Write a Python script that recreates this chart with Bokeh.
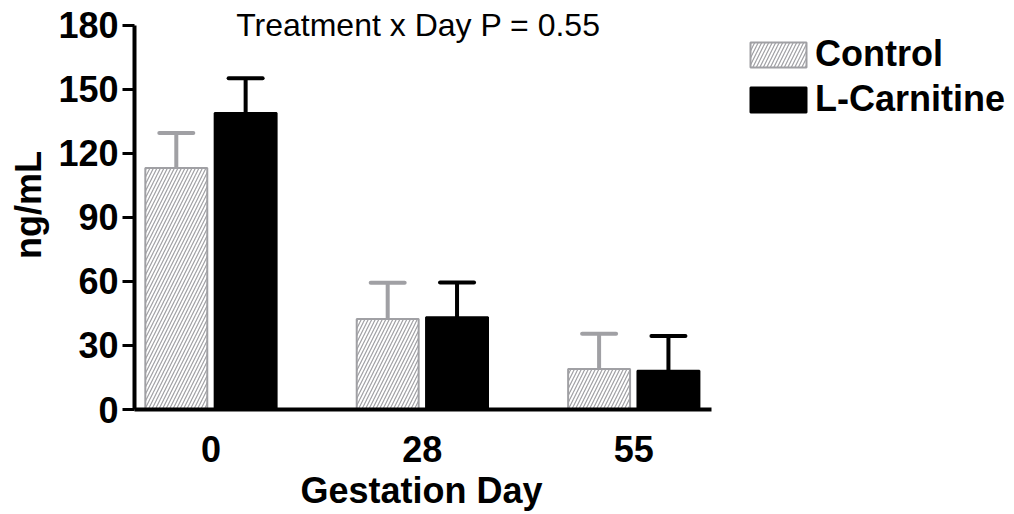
from bokeh.plotting import figure
from bokeh.models import (ColumnDataSource, Range1d, FixedTicker, Whisker, TeeHead,
                          Legend, LegendItem, Label, Title)
from bokeh.transform import dodge
from bokeh.embed import file_html
from bokeh.resources import INLINE

# ---- data ----
days = ["0", "28", "55"]
control = [113.2, 42.4, 19.0]
control_sem = [16.4, 17.0, 16.5]
lcarn = [139.0, 43.2, 18.2]
lcarn_sem = [16.2, 16.3, 16.2]
y_ticks = [0, 30, 60, 90, 120, 150, 180]
title_text = "Treatment x Day P = 0.55"
x_title = "Gestation Day"
y_title = "ng/mL"
series_names = ["Control", "L-Carnitine"]

GREY = "#a0a0a4"
FONT = "Liberation Sans"

idx = list(range(len(days)))
src = ColumnDataSource(dict(
    idx=idx,
    control=control,
    control_hi=[m + e for m, e in zip(control, control_sem)],
    lcarn=lcarn,
    lcarn_hi=[m + e for m, e in zip(lcarn, lcarn_sem)],
))

W, H = 1014, 514
# frame spans the whole right part of the canvas; axis lines limited with bounds
X0, X1_AXIS, X1 = -0.3617, 2.369, 3.801
Y_AXIS_TOP, Y1 = 180, 191.7
p = figure(width=W, height=H, output_backend="svg", toolbar_location=None,
           x_range=Range1d(X0, X1), y_range=Range1d(0, Y1),
           min_border_left=134, min_border_top=0, min_border_bottom=104,
           min_border_right=0, outline_line_color=None)
p.grid.visible = False

off = 0.164
bw = 0.293
r_ctrl = p.vbar(x=dodge("idx", -off), top="control", width=bw, source=src,
                fill_color="white", line_color=GREY, line_width=2,
                hatch_pattern="/", hatch_color=GREY, hatch_scale=7, hatch_weight=1.2)
r_lc = p.vbar(x=dodge("idx", off), top="lcarn", width=bw, source=src,
              fill_color="black", line_color="black", line_width=2)

for col, hi, color, o in [("control", "control_hi", GREY, -off), ("lcarn", "lcarn_hi", "black", off)]:
    w = Whisker(base=dodge("idx", o), lower=col, upper=hi, source=src,
                dimension="height", line_color=color, line_width=4,
                lower_head=None,
                upper_head=TeeHead(size=34, line_color=color, line_width=4, line_cap="round"))
    p.add_layout(w)

# axes
for ax in (p.xaxis, p.yaxis):
    ax.axis_line_width = 4
    ax.axis_line_color = "black"
    ax.major_label_text_font = FONT
    ax.major_label_text_font_style = "bold"
    ax.major_label_text_font_size = "36px"
    ax.major_label_text_color = "black"
    ax.axis_label_text_font = FONT
    ax.axis_label_text_font_style = "bold"
    ax.axis_label_text_font_size = "36px"
    ax.axis_label_text_color = "black"
    ax.minor_tick_line_color = None

p.yaxis.bounds = (0, Y_AXIS_TOP)
p.yaxis.ticker = FixedTicker(ticks=y_ticks)
p.yaxis.major_tick_out = 12
p.yaxis.major_tick_in = 0
p.yaxis.major_tick_line_width = 3
p.yaxis.major_label_standoff = 4
p.yaxis.axis_label = y_title
p.yaxis.axis_label_standoff = 6

p.xaxis.bounds = (X0, X1_AXIS)
p.xaxis.ticker = FixedTicker(ticks=idx)
p.xaxis.major_label_overrides = {i: d for i, d in zip(idx, days)}
p.xaxis.major_tick_line_color = None
p.xaxis.major_tick_out = 0
p.xaxis.major_tick_in = 0
p.xaxis.major_label_standoff = 26

# x-axis title centred under the axis line (not the whole frame)
p.add_layout(Title(text=x_title, align="left", offset=166, standoff=7,
                   text_font=FONT, text_font_style="bold", text_font_size="36px",
                   text_color="black"), "below")

# chart title as label
p.add_layout(Label(x=1, y=Y_AXIS_TOP, x_offset=-4, text=title_text, text_align="center",
                   text_baseline="middle", text_font=FONT, text_font_size="32px",
                   text_color="black"))

legend = Legend(items=[LegendItem(label=series_names[0], renderers=[r_ctrl]),
                       LegendItem(label=series_names[1], renderers=[r_lc])],
                location=(609, 289), margin=0, padding=0, border_line_color=None,
                background_fill_alpha=0, glyph_width=70, glyph_height=31,
                label_standoff=2, spacing=3,
                label_text_font=FONT, label_text_font_style="bold",
                label_text_font_size="36px", label_text_color="black")
p.add_layout(legend)

open("out.html", "w").write(file_html(p, INLINE))
